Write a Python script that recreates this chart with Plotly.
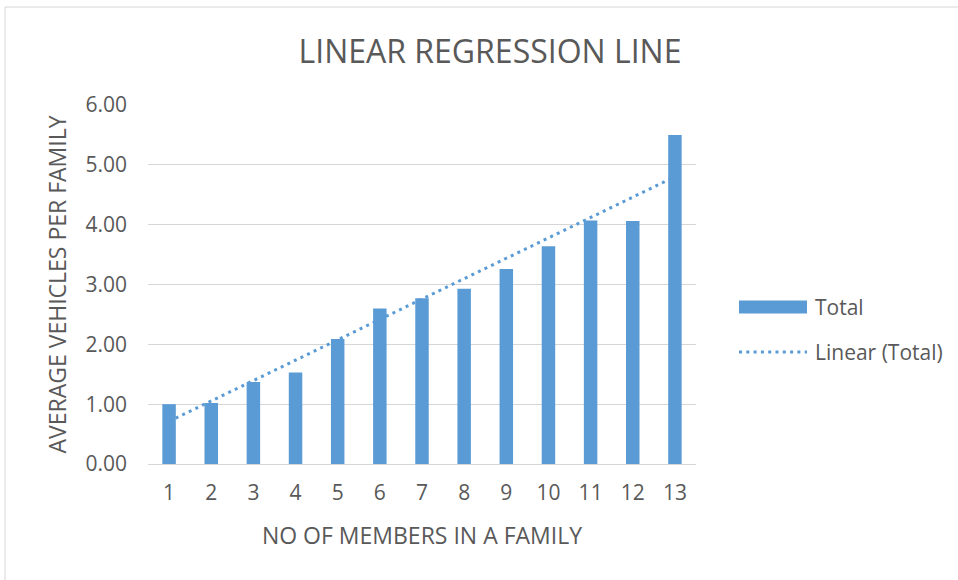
import numpy as np
import plotly.graph_objects as go

# Family size vs. average number of vehicles
members = [1, 2, 3, 4, 5, 6, 7, 8, 9, 10, 11, 12, 13]
avg_vehicles = [1.00, 1.02, 1.37, 1.53, 2.09, 2.60, 2.77, 2.93, 3.26, 3.64, 4.07, 4.06, 5.50]
y_ticks = [0, 1, 2, 3, 4, 5, 6]

BLUE = "#5B9BD5"
GRID = "#D6D6D6"
TEXT = "#595959"
FONT = "Open Sans"

# Least-squares trendline over the bars
slope, intercept = np.polyfit(members, avg_vehicles, 1)
trend_x = [members[0], members[-1]]
trend_y = [intercept + slope * x for x in trend_x]

W, H = 958, 580
L, R, T, B = 148, 262, 105, 116
pw, ph = W - L - R, H - T - B


def px(x):
    return (x - L) / pw


def py(y):
    return (H - B - y) / ph


fig = go.Figure()
fig.add_trace(go.Bar(x=members, y=avg_vehicles, width=0.32, marker_color=BLUE,
                     marker_line_width=0, name="Total", showlegend=False))
fig.add_trace(go.Scatter(x=trend_x, y=trend_y, mode="lines", name="Linear (Total)",
                         line=dict(color=BLUE, width=3, dash="3px,4.3px"),
                         showlegend=False))

shapes = [
    # chart frame
    dict(type="rect", xref="paper", yref="paper", x0=px(5), x1=px(1100), y0=py(700), y1=py(7),
         line=dict(color=GRID, width=1), fillcolor="rgba(0,0,0,0)", layer="below"),
    # legend keys
    dict(type="rect", xref="paper", yref="paper", x0=px(739), x1=px(807), y0=py(313.5), y1=py(300.5),
         line=dict(width=0), fillcolor=BLUE),
    dict(type="line", xref="paper", yref="paper", x0=px(739), x1=px(807), y0=py(352), y1=py(352),
         line=dict(color=BLUE, width=3, dash="3px,4.3px")),
]

annotations = [
    dict(text="Total", xref="paper", yref="paper", x=px(813), y=py(307), xanchor="left",
         yanchor="middle", showarrow=False, font=dict(family=FONT, size=21, color=TEXT)),
    dict(text="Linear (Total)", xref="paper", yref="paper", x=px(813), y=py(352), xanchor="left",
         yanchor="middle", showarrow=False, font=dict(family=FONT, size=21, color=TEXT)),
]

fig.update_layout(
    width=W, height=H,
    margin=dict(l=L, r=R, t=T, b=B, autoexpand=False),
    paper_bgcolor="white", plot_bgcolor="white",
    title=dict(text="LINEAR REGRESSION LINE", x=490 / W, xanchor="center",
               y=1 - 52 / H, yanchor="middle",
               font=dict(family=FONT, size=32, color=TEXT)),
    font=dict(family=FONT, color=TEXT),
    shapes=shapes,
    annotations=annotations,
    showlegend=False,
    xaxis=dict(range=[0.5, 13.5], tickvals=members, ticktext=[str(m) for m in members],
               showgrid=False, zeroline=False, showline=True, linecolor=GRID, linewidth=1.3,
               ticks="", ticklabelstandoff=10, tickfont=dict(family=FONT, size=21, color=TEXT),
               title=dict(text="NO OF MEMBERS IN A FAMILY", standoff=22,
                          font=dict(family=FONT, size=23, color=TEXT))),
    yaxis=dict(range=[0, 6], tickvals=y_ticks, tickformat=".2f",
               showgrid=True, gridcolor=GRID, gridwidth=1.3, zeroline=False,
               ticks="", ticklabelstandoff=20, tickfont=dict(family=FONT, size=21, color=TEXT),
               title=dict(text="AVERAGE VEHICLES PER FAMILY", standoff=12,
                          font=dict(family=FONT, size=23, color=TEXT))),
)

fig.write_html("out.html")
